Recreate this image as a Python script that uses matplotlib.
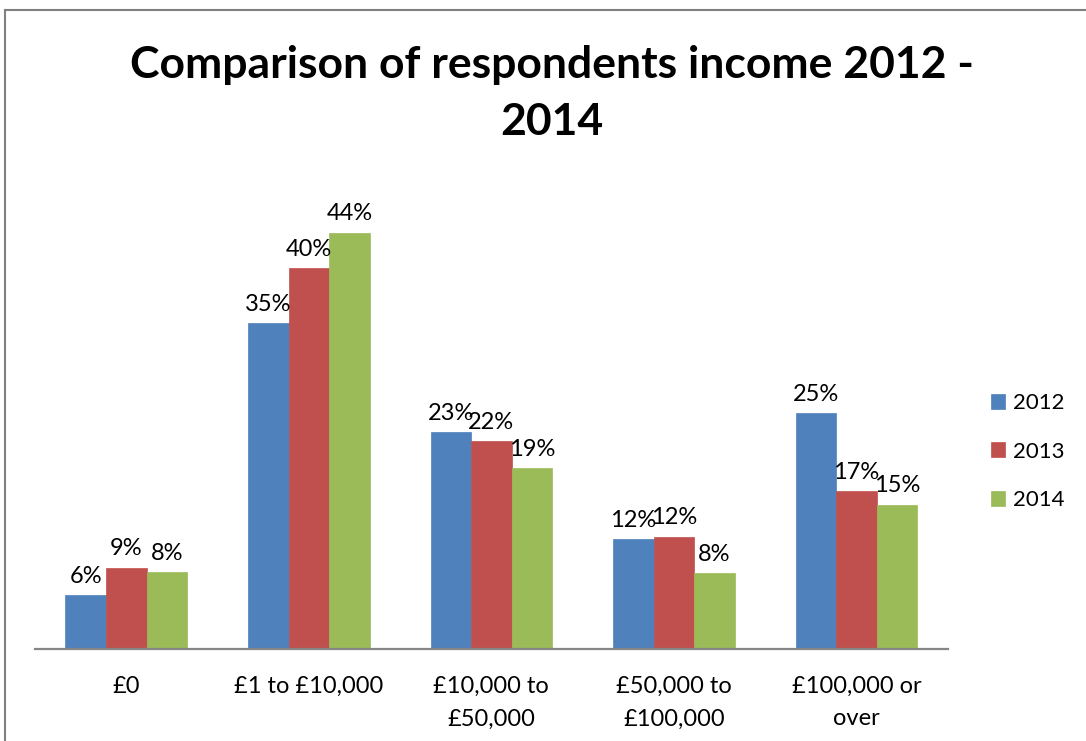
"""Grouped bar chart of respondents' income bands, 2012 to 2014."""

import matplotlib
matplotlib.use("Agg")
import matplotlib.pyplot as plt
from matplotlib.lines import Line2D
import numpy as np

# Income bands and share of respondents (%) per survey year
categories = ["£0", "£1 to £10,000", "£10,000 to\n£50,000",
              "£50,000 to\n£100,000", "£100,000 or\nover"]
years = ["2012", "2013", "2014"]
share_2012 = [5.7, 34.6, 23.0, 11.6, 25.0]
share_2013 = [8.6, 40.4, 22.0, 11.9, 16.7]
share_2014 = [8.1, 44.2, 19.2, 8.0, 15.3]

colors = ["#4F81BD", "#C0504D", "#9BBB59"]

plt.rcParams['font.family'] = ['Lato', 'DejaVu Sans']

fig = plt.figure(figsize=(10.86, 7.41), dpi=100)
ax = fig.add_axes([0.0322, 0.1248, 0.8405, 0.635])

x = np.arange(len(categories))
width = 1 / 4.5  # Excel-style 150% gap width
series = [share_2012, share_2013, share_2014]

for i, (year, values) in enumerate(zip(years, series)):
    bars = ax.bar(x + (i - 1) * width, values, width, color=colors[i],
                  label=year, edgecolor=colors[i], linewidth=0.5)
    ax.bar_label(bars, labels=[f"{v:.0f}%" for v in values],
                 padding=6, fontsize=17, color="black")

ax.set_xlim(-0.5, len(categories) - 0.5)
ax.set_ylim(0, 50)
ax.set_xticks(x)
ax.set_xticklabels(categories, fontsize=17, linespacing=1.65)
ax.tick_params(axis="x", length=0, pad=20)
ax.set_yticks([])
for side in ["top", "right", "left"]:
    ax.spines[side].set_visible(False)
ax.spines["bottom"].set_color("#868686")
ax.spines["bottom"].set_linewidth(1.6)

fig.text(0.508, 0.874, "Comparison of respondents income 2012 -\n2014",
         ha="center", va="center", fontsize=32, fontweight="bold",
         linespacing=1.5)

fig.legend(loc="upper left", bbox_to_anchor=(0.894, 0.496), frameon=False,
           fontsize=16, handlelength=0.65, handleheight=0.65,
           handletextpad=0.35, labelspacing=1.27)

# Chart area frame (top and left edges)
fig.add_artist(Line2D([0.005, 1.0], [0.987, 0.987], color="#808080", lw=1.5))
fig.add_artist(Line2D([0.005, 0.005], [0.0, 0.987], color="#808080", lw=1.5))

fig.savefig("out.png", dpi=100)
